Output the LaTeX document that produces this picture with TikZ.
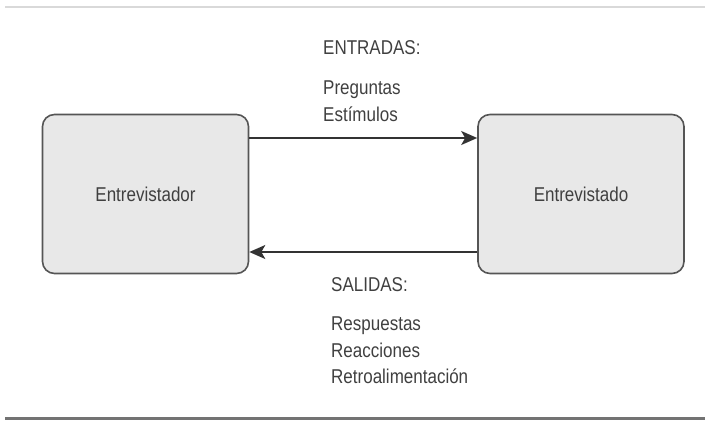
\documentclass[tikz,border=0pt]{standalone}
\usepackage{fontspec}
\setmainfont[FakeStretch=0.85]{Liberation Sans}
\usetikzlibrary{arrows.meta}
\definecolor{caja}{HTML}{E8E8E8}
\definecolor{borde}{HTML}{555555}
\definecolor{texto}{HTML}{404040}
\begin{document}
\begin{tikzpicture}[x=1pt, y=-1pt,
	bloque/.style={draw=borde, fill=caja, line width=1.6pt, rounded corners=12pt,
		minimum width=206pt, minimum height=159pt, text=texto, font=\fontsize{20}{26}\selectfont},
	rotulo/.style={text=texto, inner sep=0pt, align=left, anchor=north west, font=\fontsize{20}{26.5}\selectfont},
	flecha/.style={draw=black!80, line width=1.8pt, -{Stealth[length=16pt, width=14pt, inset=4pt]}}]
	\useasboundingbox (0,0) rectangle (705,421);
	% lineas de marco
	\draw [line width=1.8pt, black!15] (5,7) -- (705,7);
	\draw [line width=3pt, black!55] (5,418) -- (705,418);
	% cajas
	\node [bloque] (izq) at (145.5,194) {Entrevistador};
	\node [bloque] (der) at (581,194) {Entrevistado};
	% flechas
	\draw [flecha] ([yshift=56pt]izq.east) -- ([yshift=56pt]der.west);
	\draw [flecha] ([yshift=-58pt]der.west) -- ([yshift=-58pt]izq.east);
	% textos
	\node [rotulo] (entradas) at (323,40) {ENTRADAS:};
	\node [rotulo] (preg) at (323,81) {Preguntas\\Estímulos};
	\node [rotulo] (salidas) at (331,277) {SALIDAS:};
	\node [rotulo] (resp) at (331,317) {Respuestas\\Reacciones\\Retroalimentación};
\end{tikzpicture}
\end{document}
